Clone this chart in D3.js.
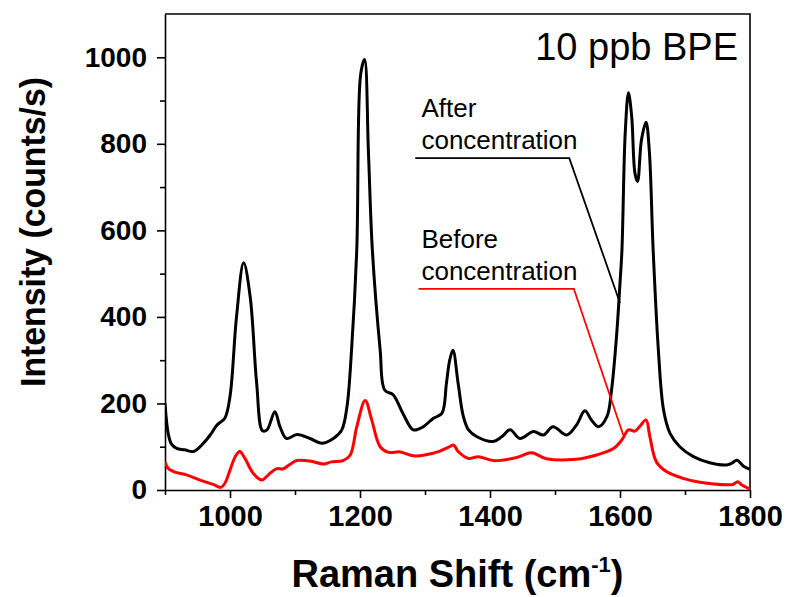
<!DOCTYPE html>
<html>
<head>
<meta charset="utf-8">
<script src="https://cdn.jsdelivr.net/npm/d3@7"></script>
<style>
  html, body { margin: 0; padding: 0; background: #fff; }
  svg { display: block; font-family: "Liberation Sans", Arial, sans-serif; }
</style>
</head>
<body>
<svg id="chart" width="786" height="597"></svg>
<script>
// Raman spectra of 10 ppb BPE, before and after concentration
const afterShift = [900, 905, 910, 918, 930, 944, 959, 970, 980, 992, 1000, 1010, 1021, 1031, 1041, 1050, 1057, 1069, 1077, 1087, 1103, 1123, 1141, 1159, 1172, 1180, 1187, 1195, 1201, 1207, 1213, 1219, 1231, 1238, 1251, 1266, 1282, 1297, 1313, 1326, 1333, 1338, 1343, 1351, 1359, 1367, 1380, 1405, 1418, 1431, 1446, 1467, 1482, 1497, 1518, 1533, 1546, 1556, 1567, 1580, 1587, 1595, 1600, 1603, 1608, 1613, 1618, 1623, 1627, 1633, 1640, 1645, 1651, 1659, 1667, 1677, 1692, 1713, 1738, 1764, 1772, 1780, 1790, 1800];
const afterIntensity = [200, 130, 106, 96, 93, 89, 108, 128, 150, 166, 216, 400, 525, 447, 247, 137, 139, 181, 146, 119, 128, 119, 108, 119, 139, 193, 324, 555, 960, 995, 780, 555, 324, 231, 220, 177, 139, 146, 166, 177, 247, 300, 323, 246, 170, 139, 123, 112, 123, 139, 119, 135, 127, 146, 127, 150, 183, 162, 146, 170, 231, 362, 478, 555, 824, 918, 863, 732, 713, 809, 850, 786, 555, 324, 185, 131, 100, 77, 63, 58, 62, 69, 55, 48];

const beforeShift = [900, 905, 918, 933, 954, 974, 986, 992, 1000, 1008, 1015, 1023, 1036, 1049, 1059, 1071, 1082, 1092, 1103, 1123, 1144, 1156, 1174, 1185, 1195, 1208, 1218, 1231, 1244, 1262, 1282, 1303, 1323, 1338, 1344, 1351, 1367, 1382, 1405, 1441, 1464, 1487, 1533, 1564, 1590, 1603, 1613, 1623, 1631, 1640, 1646, 1656, 1672, 1697, 1723, 1764, 1774, 1781, 1787, 1800];
const beforeIntensity = [65, 50, 40, 35, 23, 13, 6, 15, 46, 77, 89, 73, 38, 23, 35, 49, 49, 59, 68, 67, 60, 65, 68, 81, 146, 207, 162, 100, 87, 88, 79, 82, 90, 100, 104, 89, 73, 77, 68, 75, 86, 72, 71, 81, 96, 116, 139, 136, 148, 162, 123, 65, 42, 27, 18, 12, 13, 19, 12, 2];

const xMajorTicks = [1000, 1200, 1400, 1600, 1800];
const xMinorTicks = [900, 1100, 1300, 1500, 1700];
const yMajorTicks = [0, 200, 400, 600, 800, 1000];
const yMinorTicks = [100, 300, 500, 700, 900];

const xDomain = [900, 1800];
const yDomain = [0, 1100];

const plot = { left: 165, top: 14, right: 750, bottom: 490 };

const svg = d3.select("#chart");
const x = d3.scaleLinear().domain(xDomain).range([plot.left, plot.right]);
const y = d3.scaleLinear().domain(yDomain).range([plot.bottom, plot.top]);

// frame (top and right edges)
svg.append("path")
  .attr("d", `M${plot.left},${plot.top}H${plot.right}V${plot.bottom}`)
  .attr("fill", "none").attr("stroke", "#000").attr("stroke-width", 1.6);

// axes
const xAxis = svg.append("g").attr("transform", `translate(0,${plot.bottom})`)
  .call(d3.axisBottom(x).tickValues(xMajorTicks).tickSize(8).tickPadding(7).tickSizeOuter(0).tickFormat(d3.format("d")));
svg.append("g").attr("transform", `translate(0,${plot.bottom})`)
  .call(d3.axisBottom(x).tickValues(xMinorTicks).tickSize(5).tickFormat("").tickSizeOuter(0))
  .select(".domain").remove();

const yAxis = svg.append("g").attr("transform", `translate(${plot.left},0)`)
  .call(d3.axisLeft(y).tickValues(yMajorTicks).tickSize(8).tickPadding(10).tickSizeOuter(0).tickFormat(d3.format("d")));
svg.append("g").attr("transform", `translate(${plot.left},0)`)
  .call(d3.axisLeft(y).tickValues(yMinorTicks).tickSize(5).tickFormat("").tickSizeOuter(0))
  .select(".domain").remove();

svg.selectAll(".domain, .tick line").attr("stroke", "#000").attr("stroke-width", 1.6);
svg.selectAll(".tick text")
  .attr("fill", "#000")
  .style("font-family", "'Liberation Sans', Arial, sans-serif")
  .style("font-weight", "bold")
  .style("font-size", "29px");
yAxis.selectAll(".tick text").style("font-size", "28px");

// spectra
const line = d3.line().x(d => x(d[0])).y(d => y(d[1])).curve(d3.curveCatmullRom.alpha(0.5));
svg.append("clipPath").attr("id", "plotClip").append("rect")
  .attr("x", plot.left).attr("y", plot.top)
  .attr("width", plot.right - plot.left).attr("height", plot.bottom - plot.top + 2);

svg.append("path")
  .datum(d3.zip(beforeShift, beforeIntensity))
  .attr("d", line).attr("fill", "none").attr("stroke", "#ff0000")
  .attr("stroke-width", 3).attr("stroke-linejoin", "round")
  .attr("clip-path", "url(#plotClip)");
svg.append("path")
  .datum(d3.zip(afterShift, afterIntensity))
  .attr("d", line).attr("fill", "none").attr("stroke", "#000")
  .attr("stroke-width", 3).attr("stroke-linejoin", "round")
  .attr("clip-path", "url(#plotClip)");

// annotations with leader lines
const labelFont = "'Liberation Sans', Arial, sans-serif";
function note(lines, tx, tyFirst, leader, color) {
  const t = svg.append("text").attr("font-family", labelFont).attr("font-size", 26).attr("fill", "#000");
  lines.forEach((s, i) => {
    t.append("tspan").attr("x", x(tx)).attr("y", y(tyFirst) + i * 32).text(s);
  });
  svg.append("path")
    .attr("d", d3.line()(leader.map(p => [x(p[0]), y(p[1])])))
    .attr("fill", "none").attr("stroke", color).attr("stroke-width", 1.8);
}
note(["After", "concentration"], 1294.5, 863, [[1285, 767], [1522, 767], [1600, 432]], "#000");
note(["Before", "concentration"], 1294.5, 559, [[1290, 465], [1529, 465], [1605, 127]], "#ff0000");

svg.append("text")
  .attr("x", 738).attr("y", 60)
  .attr("text-anchor", "end")
  .attr("font-family", labelFont).attr("font-size", 38).attr("fill", "#000")
  .text("10 ppb BPE");

// axis titles
const xt = svg.append("text")
  .attr("x", (plot.left + plot.right) / 2).attr("y", 587)
  .attr("text-anchor", "middle")
  .attr("font-family", labelFont).attr("font-weight", "bold").attr("font-size", 38).attr("fill", "#000");
xt.append("tspan").text("Raman Shift (cm");
xt.append("tspan").attr("font-size", 22).attr("dy", -15).text("-1");
xt.append("tspan").attr("dy", 15).text(")");

svg.append("text")
  .attr("transform", "translate(45,232) rotate(-90)")
  .attr("text-anchor", "middle")
  .attr("font-family", labelFont).attr("font-weight", "bold").attr("font-size", 35).attr("fill", "#000")
  .attr("textLength", 310).attr("lengthAdjust", "spacingAndGlyphs")
  .text("Intensity (counts/s)");
</script>
</body>
</html>
